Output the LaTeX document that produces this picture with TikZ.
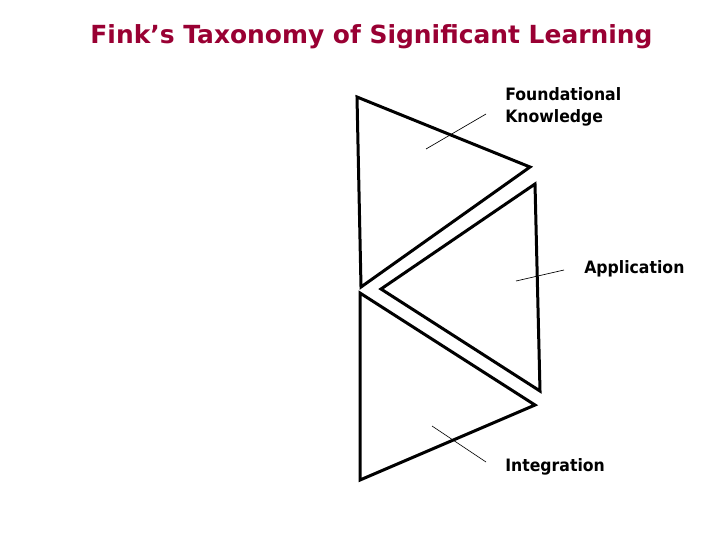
\documentclass[tikz,border=0pt]{standalone}
\usepackage{fontspec}
\setmainfont{DejaVu Sans}
\newfontfamily\labelfont[FakeStretch=0.92]{DejaVu Sans}
\usepackage{tikz}
\usepackage{xcolor}
\definecolor{finkred}{RGB}{153,0,51}

\tikzset{
  tri/.style={line width=2.25},
  leader/.style={line width=0.5},
  label/.style={anchor=base west,inner sep=0pt,font=\labelfont\bfseries\fontsize{12.8}{16.5}\selectfont,align=left}
}

\begin{document}
\begin{tikzpicture}[x=0.75pt,y=0.75pt,yscale=-1,xscale=1]
\useasboundingbox (0,0) rectangle (720,540);

%Shape: Triangle (Foundational Knowledge)
\draw [tri] (357,97) -- (530,167) -- (361,287) -- cycle ;
%Shape: Triangle (Application)
\draw [tri] (535,184) -- (381,289) -- (540,391) -- cycle ;
%Shape: Triangle (Integration)
\draw [tri] (360,293) -- (535,405) -- (360,480) -- cycle ;

%Leader ends
\coordinate (foundIn) at (426,149);
\coordinate (foundOut) at (486,114);
\coordinate (applIn) at (516,281);
\coordinate (applOut) at (564,270);
\coordinate (integIn) at (432,426);
\coordinate (integOut) at (486,462);

%Straight Lines
\draw [leader] (foundIn) -- (foundOut) ;
\draw [leader] (applIn) -- (applOut) ;
\draw [leader] (integIn) -- (integOut) ;

% Text Node
\node (title) at (371.5,43) [anchor=base,inner sep=0pt,font=\bfseries\fontsize{18.7}{23}\selectfont,color=finkred] {Fink’s Taxonomy of Significant Learning};
% Text Node
\node (found) at (505,122) [label] {Foundational\\Knowledge};
% Text Node
\node (appl) at (584,273) [label] {Application};
% Text Node
\node (integ) at (505,471) [label] {Integration};

\end{tikzpicture}
\end{document}
